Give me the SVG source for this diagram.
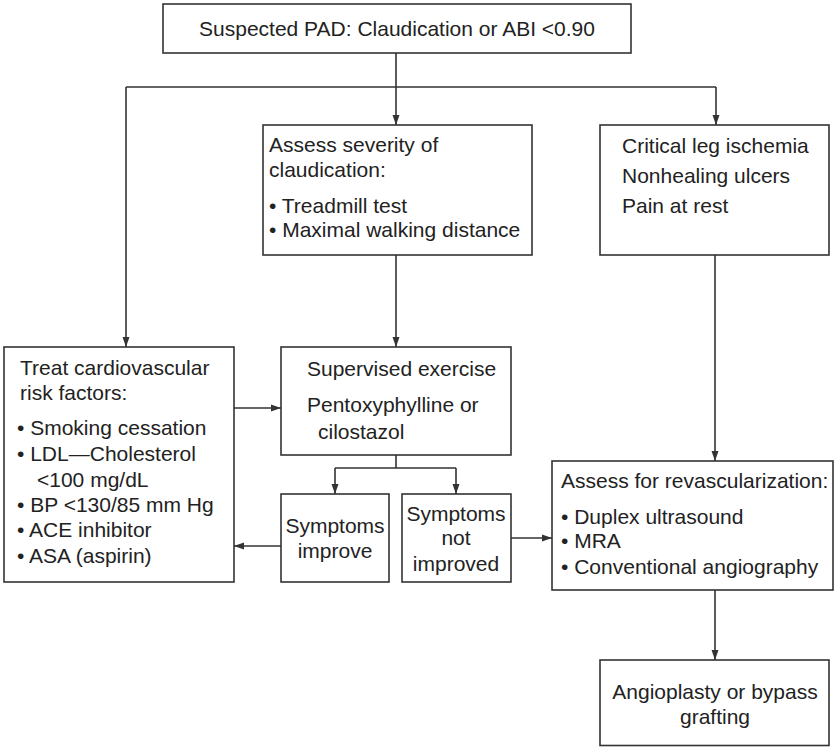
<svg xmlns="http://www.w3.org/2000/svg" width="834" height="747" viewBox="0 0 834 747">
<defs>
<style>
.box{fill:#fff;stroke:#333;stroke-width:1.6}
.t{font-family:"Liberation Sans",Arial,Helvetica,sans-serif;font-size:21px;fill:#222}
.c{text-anchor:middle}
.ln{fill:none;stroke:#333;stroke-width:1.6}
</style>
<marker id="ah" viewBox="0 0 10 10" refX="10" refY="5" markerWidth="10" markerHeight="10" markerUnits="userSpaceOnUse" orient="auto">
<path d="M0,1.5 L10,5 L0,8.5 z" fill="#333"/>
</marker>
</defs>
<rect width="834" height="747" fill="#fff"/>
<g id="connectors">
<path class="ln" d="M396,53 V87 M126,87 H716"/>
<path class="ln" d="M396,87 V125" marker-end="url(#ah)"/>
<path class="ln" d="M716,87 V125" marker-end="url(#ah)"/>
<path class="ln" d="M126,87 V347" marker-end="url(#ah)"/>
<path class="ln" d="M396,255 V347" marker-end="url(#ah)"/>
<path class="ln" d="M715,255 V461" marker-end="url(#ah)"/>
<path class="ln" d="M234,408 H281" marker-end="url(#ah)"/>
<path class="ln" d="M396,455 V468 M335,468 H456"/>
<path class="ln" d="M335,468 V494" marker-end="url(#ah)"/>
<path class="ln" d="M456,468 V494" marker-end="url(#ah)"/>
<path class="ln" d="M281,546 H234" marker-end="url(#ah)"/>
<path class="ln" d="M511,538 H552" marker-end="url(#ah)"/>
<path class="ln" d="M715,590 V660" marker-end="url(#ah)"/>
</g>
<g id="suspected">
<rect class="box" x="163" y="4" width="468" height="49"/>
<text class="t c" x="397" y="36">Suspected PAD: Claudication or ABI &lt;0.90</text>
</g>
<g id="assess-severity">
<rect class="box" x="263" y="125" width="269" height="130"/>
<text class="t" x="269" y="152">Assess severity of</text>
<text class="t" x="269" y="177">claudication:</text>
<text class="t" x="269" y="213">• Treadmill test</text>
<text class="t" x="269" y="237">• Maximal walking distance</text>
</g>
<g id="critical">
<rect class="box" x="600" y="125" width="229" height="130"/>
<text class="t" x="622" y="153">Critical leg ischemia</text>
<text class="t" x="622" y="183">Nonhealing ulcers</text>
<text class="t" x="622" y="213">Pain at rest</text>
</g>
<g id="treat">
<rect class="box" x="4" y="347" width="230" height="235"/>
<text class="t" x="20" y="375">Treat cardiovascular</text>
<text class="t" x="20" y="400">risk factors:</text>
<text class="t" x="17" y="435">• Smoking cessation</text>
<text class="t" x="17" y="461">• LDL—Cholesterol</text>
<text class="t" x="37" y="487">&lt;100 mg/dL</text>
<text class="t" x="17" y="512">• BP &lt;130/85 mm Hg</text>
<text class="t" x="17" y="537">• ACE inhibitor</text>
<text class="t" x="17" y="563">• ASA (aspirin)</text>
</g>
<g id="supervised">
<rect class="box" x="281" y="347" width="230" height="108"/>
<text class="t" x="307" y="376">Supervised exercise</text>
<text class="t" x="307" y="412">Pentoxyphylline or</text>
<text class="t" x="318" y="439">cilostazol</text>
</g>
<g id="improve">
<rect class="box" x="281" y="494" width="108" height="88"/>
<text class="t c" x="335" y="533">Symptoms</text>
<text class="t c" x="335" y="558">improve</text>
</g>
<g id="not-improved">
<rect class="box" x="402" y="494" width="109" height="88"/>
<text class="t c" x="456" y="521">Symptoms</text>
<text class="t c" x="456" y="545">not</text>
<text class="t c" x="456" y="571">improved</text>
</g>
<g id="revascularization">
<rect class="box" x="552" y="461" width="281" height="129"/>
<text class="t" x="561" y="488">Assess for revascularization:</text>
<text class="t" x="561" y="524">• Duplex ultrasound</text>
<text class="t" x="561" y="548">• MRA</text>
<text class="t" x="561" y="574">• Conventional angiography</text>
</g>
<g id="angioplasty">
<rect class="box" x="600" y="660" width="229" height="85.5"/>
<text class="t c" x="715" y="699">Angioplasty or bypass</text>
<text class="t c" x="715" y="724">grafting</text>
</g>
</svg>
